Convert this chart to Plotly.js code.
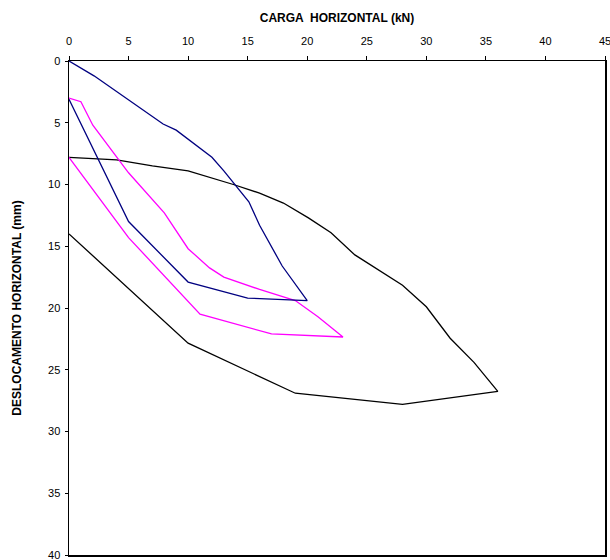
<!DOCTYPE html>
<html>
<head>
<meta charset="utf-8">
<script src="https://cdn.plot.ly/plotly-3.0.1.min.js"></script>
<style>html,body{margin:0;padding:0;background:#fff;}#chart{width:610px;height:560px;}</style>
</head>
<body>
<div id="chart"></div>
<script>
// Blue loop (load kN, displacement mm)
var blueX = [0, 2.1, 7.9, 9.0, 12.0, 13.0, 15.1, 16.0, 17.9, 20.0, 15.0, 10.0, 5.0, 0];
var blueY = [0, 1.2, 5.1, 5.6, 7.8, 8.9, 11.4, 13.3, 16.6, 19.4, 19.2, 17.9, 13.0, 3.1];
// Magenta loop
var magX = [0, 1.0, 2.0, 5.0, 8.0, 10.0, 11.8, 13.0, 16.0, 19.0, 20.9, 23.0, 17.0, 11.0, 5.0, 0];
var magY = [3.0, 3.3, 5.2, 9.05, 12.3, 15.2, 16.75, 17.5, 18.5, 19.4, 20.7, 22.35, 22.1, 20.5, 14.3, 7.8];
// Black loop
var blkX = [0, 4, 7, 10, 13.8, 16, 18, 20.1, 22, 24, 28, 30, 32, 34, 36, 28, 19, 10, 0];
var blkY = [7.8, 8.0, 8.5, 8.9, 10.0, 10.7, 11.5, 12.7, 13.9, 15.7, 18.15, 19.9, 22.45, 24.4, 26.75, 27.8, 26.9, 22.85, 14.0];

var xTicks = [0, 5, 10, 15, 20, 25, 30, 35, 40, 45];
var yTicks = [0, 5, 10, 15, 20, 25, 30, 35, 40];

var font = "Liberation Sans, Arial, sans-serif";

function line(x, y, c) {
  return {x: x, y: y, type: 'scatter', mode: 'lines',
          line: {color: c, width: 1.3}, hoverinfo: 'skip', showlegend: false};
}

var data = [
  line(blkX, blkY, '#000000'),
  line(magX, magY, '#FF00FF'),
  line(blueX, blueY, '#000080')
];

var layout = {
  width: 610, height: 560,
  paper_bgcolor: '#fff', plot_bgcolor: '#fff',
  margin: {l: 69, r: 5, t: 61, b: 5, pad: 0},
  showlegend: false,
  font: {family: font, size: 11, color: '#000'},
  xaxis: {
    side: 'top', range: [0, 45], tickvals: xTicks, ticktext: xTicks.map(String),
    ticks: 'outside', ticklen: 4, tickwidth: 1, tickcolor: '#000',
    showline: true, linecolor: '#000', linewidth: 1.5, mirror: true,
    showgrid: false, zeroline: false, ticklabeloverflow: 'allow',
    tickfont: {family: font, size: 11, color: '#000'},
    ticklabelstandoff: 6,
    title: {text: 'CARGA  HORIZONTAL (kN)', font: {family: font, size: 12, color: '#000', weight: 'bold'}, standoff: 10}
  },
  yaxis: {
    range: [40, 0], tickvals: yTicks, ticktext: yTicks.map(String),
    ticks: 'outside', ticklen: 3, tickwidth: 1, tickcolor: '#000',
    showline: true, linecolor: '#000', linewidth: 1.5, mirror: true,
    showgrid: false, zeroline: false, ticklabeloverflow: 'allow',
    tickfont: {family: font, size: 11, color: '#000'},
    ticklabelstandoff: 2,
    title: {text: 'DESLOCAMENTO HORIZONTAL (mm)', font: {family: font, size: 12, color: '#000', weight: 'bold'}, standoff: 24}
  }
};

Plotly.newPlot('chart', data, layout, {staticPlot: true, displayModeBar: false});
</script>
</body>
</html>
